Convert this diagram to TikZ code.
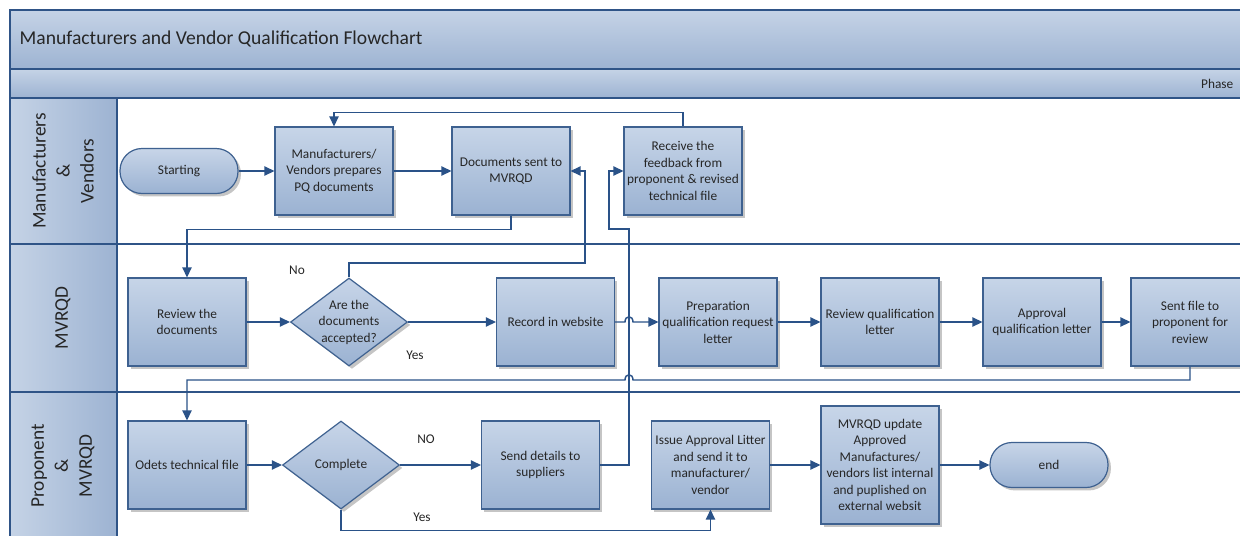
\documentclass[tikz,border=0pt]{standalone}
\usepackage{fontspec}
\setmainfont{Carlito}
\usetikzlibrary{arrows.meta,shapes.geometric,shadows}
\definecolor{fillT}{HTML}{C7D5E8}
\definecolor{fillB}{HTML}{9BB2D2}
\definecolor{edgec}{HTML}{3E6190}
\definecolor{wirec}{HTML}{2A5288}
\definecolor{hdrT}{HTML}{C5D3E6}
\definecolor{hdrB}{HTML}{9DB3D2}
\definecolor{framec}{HTML}{2F5487}
\tikzset{
 base/.style={draw=edgec, line width=0.9pt, top color=fillT, bottom color=fillB, align=center,
   font=\fontsize{10}{12.4}\selectfont, text=black!85, inner sep=1pt,
   drop shadow={shadow xshift=2.2pt, shadow yshift=-2.2pt, fill=black!45, opacity=0.5}},
 box/.style={base, rectangle, minimum width=88.5pt, minimum height=66pt},
 tallbox/.style={box, minimum height=88.5pt},
 dec/.style={base, diamond, minimum width=87.75pt, minimum height=66pt, inner sep=0pt},
 term/.style={base, rectangle, rounded corners=16.5pt, minimum width=88.5pt, minimum height=33.75pt},
 wire/.style={draw=wirec, line width=1.1pt},
 arr/.style={wire, -{Triangle[length=7.5pt,width=7pt]}},
 lbl/.style={font=\fontsize{10}{12}\selectfont, text=black!85},
 dectext/.style={align=center, font=\fontsize{10}{12.4}\selectfont, text=black!85},
 lanelbl/.style={rotate=90, align=center, font=\fontsize{14.5}{18}\selectfont, text=black!85},
 frame/.style={draw=framec, line width=1.2pt},
}
\begin{document}
\begin{tikzpicture}[x=0.75pt,y=-0.75pt]
\useasboundingbox (0,0) rectangle (1240,536);
\clip (0,0) rectangle (1240,536);
% pool background
\fill[white] (0,0) rectangle (1240,536);
\fill[top color=hdrT,bottom color=hdrB] (10,10) rectangle (1262,69);
\fill[top color=hdrT,bottom color=hdrB] (10,69) rectangle (1262,98);
\fill[left color=hdrT,right color=hdrB] (10,98) rectangle (117,560);
\draw[frame] (10,560) -- (10,10) -- (1262,10);
\draw[frame] (10,69) -- (1262,69);
\draw[frame] (10,98) -- (1262,98);
\draw[frame] (10,244) -- (1262,244);
\draw[frame] (10,392) -- (1262,392);
\draw[frame] (117,98) -- (117,560);
\node[anchor=west, font=\fontsize{14.7}{17}\selectfont, text=black!85] (title) at (15,39) {Manufacturers and Vendor Qualification Flowchart};
\node[anchor=east, lbl] (phase) at (1238,84) {Phase};
\node[lanelbl] (lane1) at (63,171) {Manufacturers\\\&\\Vendors};
\node[lanelbl] (lane2) at (63,318) {MVRQD};
\node[lanelbl] (lane3) at (63,466) {Proponent\\\&\\MVRQD};
% lane 1
\node[term] (start) at (179,171) {Starting};
\node[box] (prep) at (334,171) {Manufacturers/\\Vendors prepares\\PQ documents};
\node[box] (sent) at (511,171) {Documents sent to\\MVRQD};
\node[box] (recv) at (683,171) {Receive the\\feedback from\\proponent \& revised\\technical file};
% lane 2
\node[box] (review) at (187,322) {Review the\\documents};
\node[dec, label={[dectext]center:Are the\\documents\\accepted?}] (acc) at (349,322) {};
\node[box] (record) at (555.5,322) {Record in website};
\node[box] (prepl) at (718,322) {Preparation\\qualification request\\letter};
\node[box] (revq) at (880,322) {Review qualification\\letter};
\node[box] (appr) at (1042,322) {Approval\\qualification letter};
\node[box] (sentf) at (1190,322) {Sent file to\\proponent for\\review};
% lane 3
\node[box] (odets) at (187,465) {Odets technical file};
\node[dec, label={[dectext]center:Complete}] (comp) at (341,465) {};
\node[box] (send) at (540.5,465) {Send details to\\suppliers};
\node[box] (issue) at (710.5,465) {Issue Approval Litter\\and send it to\\manufacturer/\\vendor};
\node[tallbox] (upd) at (880,465) {MVRQD update\\Approved\\Manufactures/\\vendors list internal\\and puplished on\\external websit};
\node[term] (endn) at (1049,465) {end};
% labels
\node[lbl] (no1) at (297,270) {No};
\node[lbl] (yes1) at (415,355) {Yes};
\node[lbl] (no2) at (426,439) {NO};
\node[lbl] (yes2) at (422,517) {Yes};
% coordinates
\coordinate (c1) at (585,263);
\coordinate (h1a) at (625,322);
\coordinate (h1b) at (633,322);
\coordinate (s1) at (1190,380);
\coordinate (h2a) at (633,380);
\coordinate (h2b) at (625,380);
\coordinate (s2) at (187,380);
\coordinate (v1) at (629,465);
\coordinate (v2) at (629,229);
\coordinate (v3) at (609,229);
\coordinate (v4) at (609,171);
% connectors
\draw[arr] (start) -- (prep);
\draw[arr] (prep) -- (sent);
\draw[arr] (recv.north) -- ++(0,-14) -| (prep.north);
\draw[arr] (sent.south) -- ++(0,14) -| (review.north);
\draw[arr] (review) -- (acc);
\draw[arr] (acc) -- (record);
\draw[arr] (acc.north) |- (c1) |- (sent.east);
\draw[arr] (record.east) -- (h1a) .. controls (625,315) and (633,315) .. (h1b) -- (prepl.west);
\draw[arr] (prepl) -- (revq);
\draw[arr] (revq) -- (appr);
\draw[arr] (appr) -- (sentf);
\draw[arr] (sentf.south) -- (s1) -- (h2a) .. controls (633,373) and (625,373) .. (h2b) -- (s2) -- (odets.north);
\draw[arr] (odets) -- (comp);
\draw[arr] (comp) -- (send);
\draw[arr] (send.east) -- (v1) -- (v2) -- (v3) -- (v4) -- (recv.west);
\draw[arr] (comp.south) -- ++(0,21) -| (issue.south);
\draw[arr] (issue) -- (upd);
\draw[arr] (upd) -- (endn);
\end{tikzpicture}
\end{document}
